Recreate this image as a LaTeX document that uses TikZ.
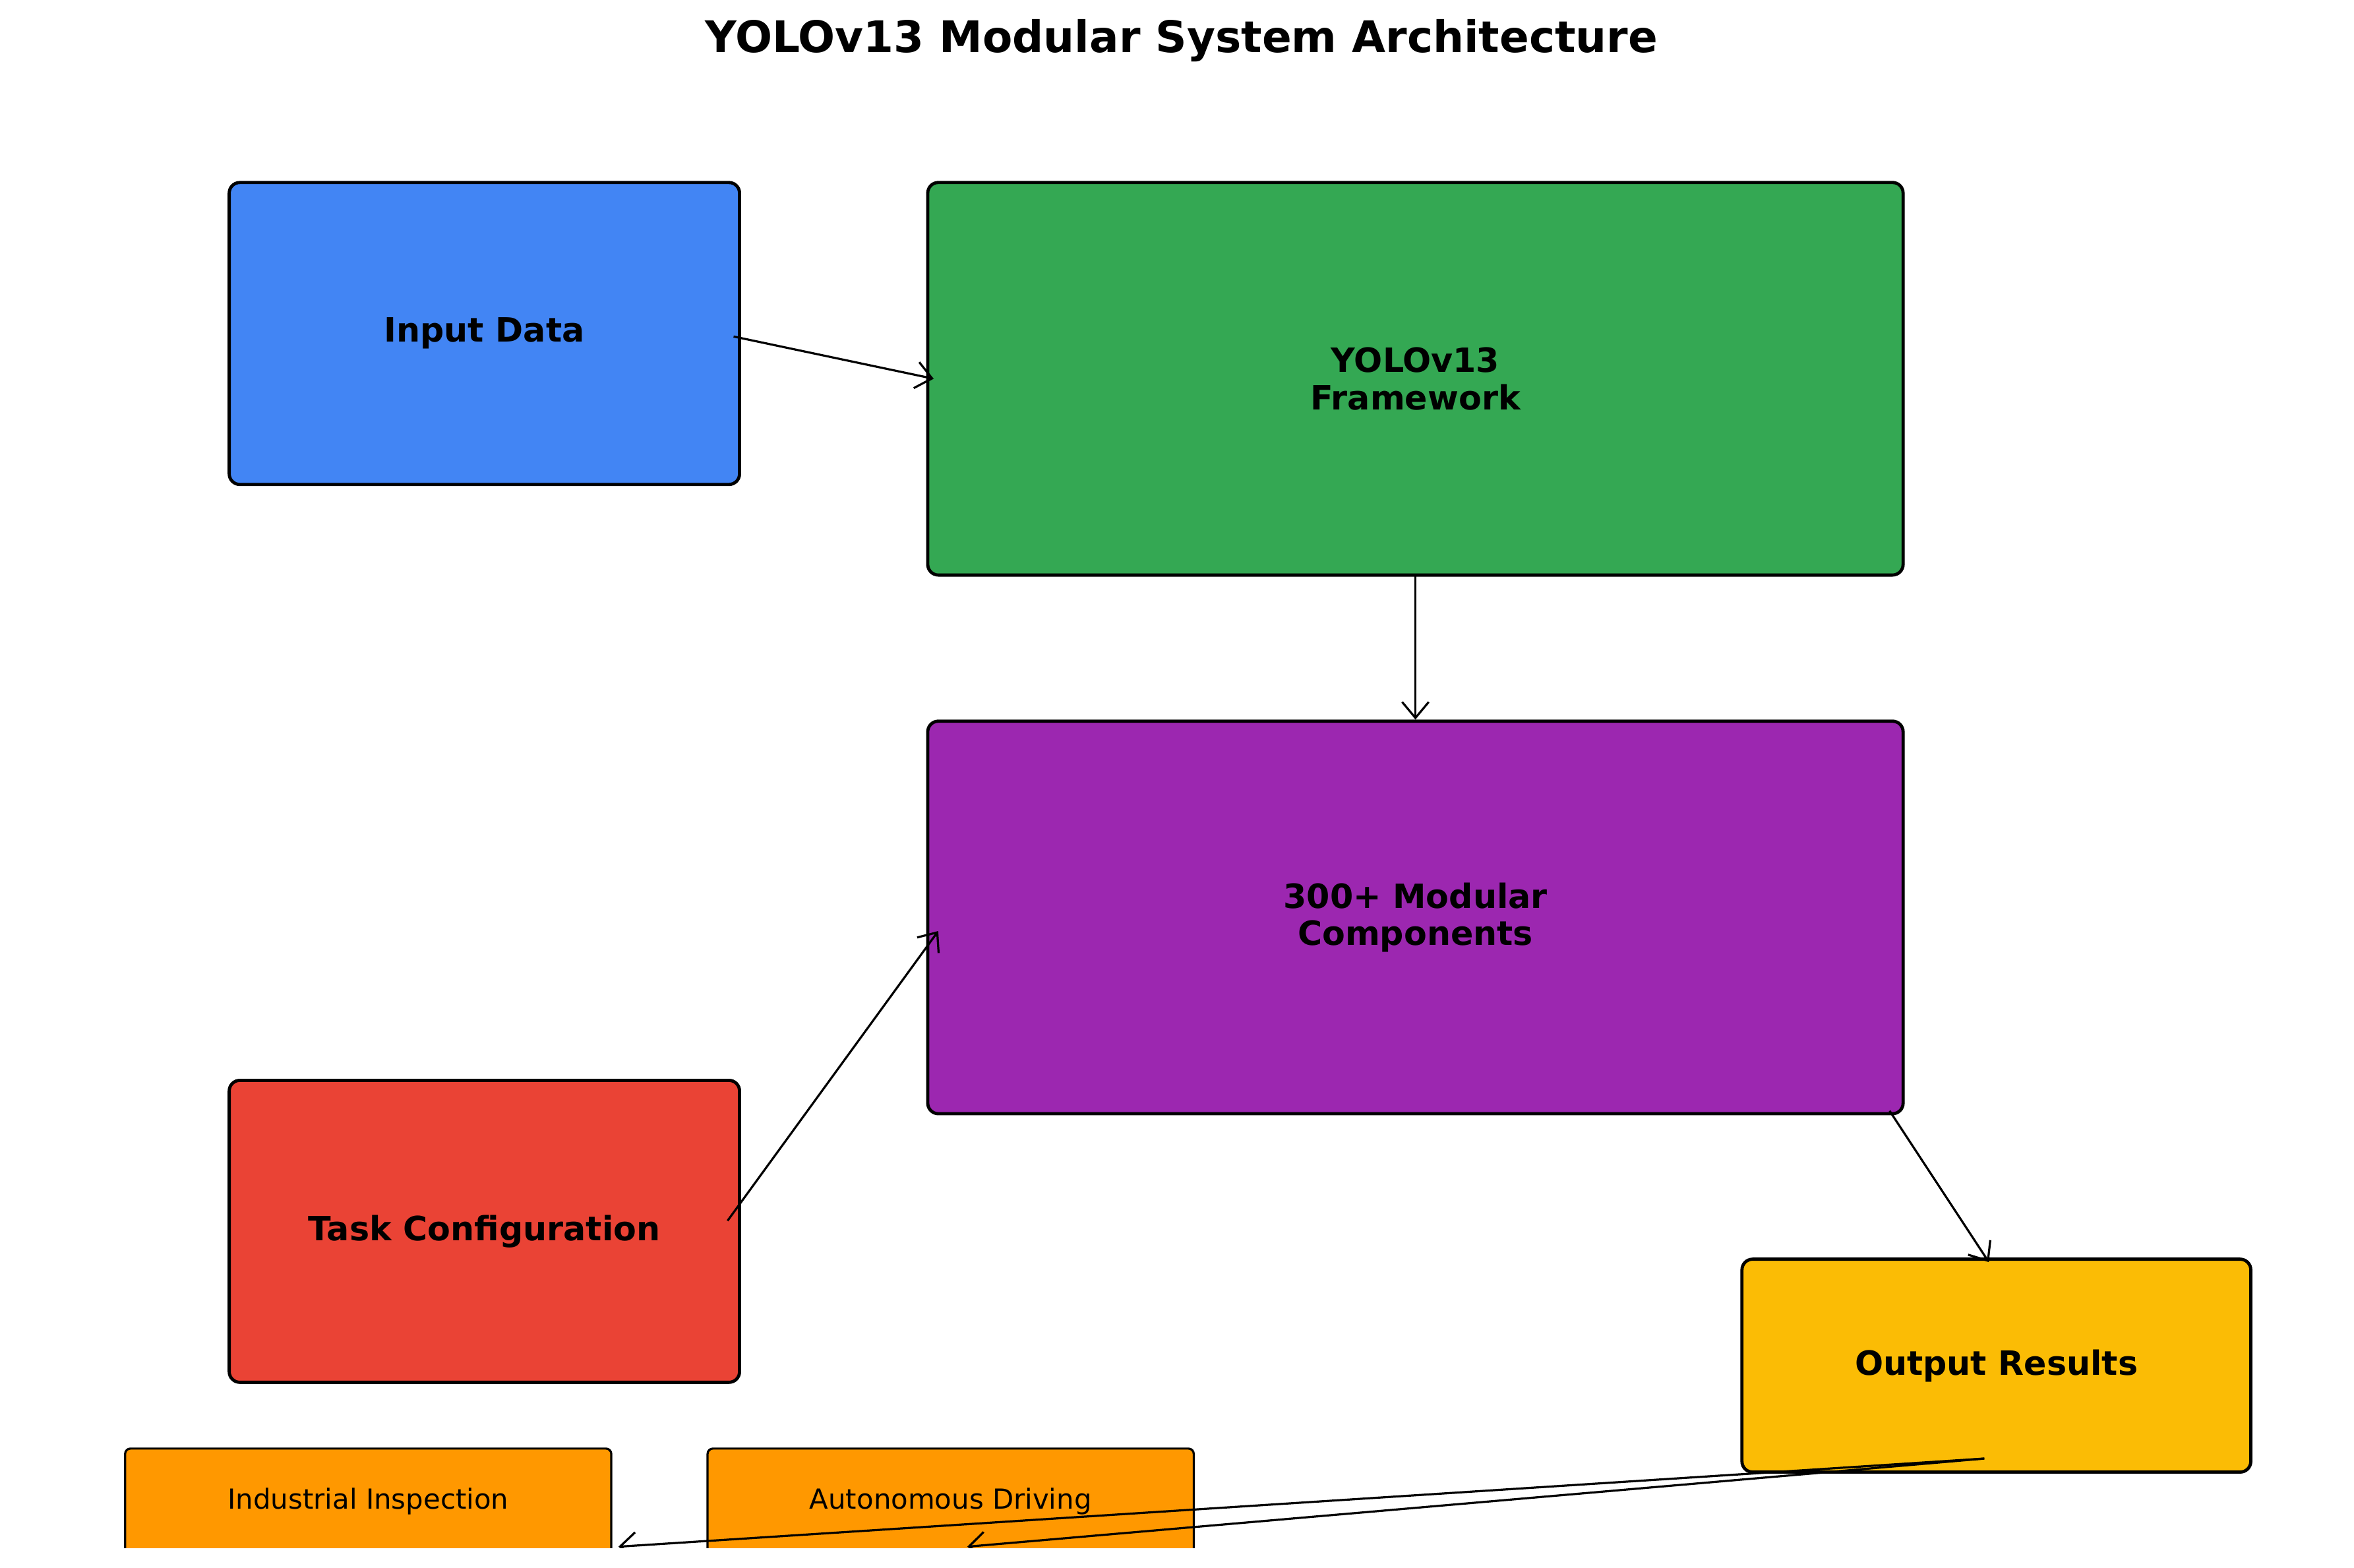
\documentclass[tikz,border=0pt]{standalone}
\usepackage{fontspec}
\setmainfont{DejaVu Sans}
\usetikzlibrary{arrows.meta}
\definecolor{gblue}{HTML}{4285F4}
\definecolor{ggreen}{HTML}{34A853}
\definecolor{gpurple}{HTML}{9C27B0}
\definecolor{gred}{HTML}{EA4335}
\definecolor{gyellow}{HTML}{FBBC05}
\definecolor{gorange}{HTML}{FF9800}
\tikzset{
  block/.style = {draw=black, line width=0.6pt, rounded corners=2pt, font=\fontsize{6.3}{7}\selectfont\bfseries, align=center, inner sep=0pt},
  app/.style = {draw=black, line width=0.4pt, rounded corners=1pt, font=\fontsize{5.2}{6}\selectfont, fill=gorange, inner sep=0pt},
  link/.style = {-{Straight Barb[length=3pt,width=5pt]}, line width=0.4pt}
}
\begin{document}
\begin{tikzpicture}[x=0.01cm, y=-0.01cm]
\useasboundingbox (0,0) rectangle (1560,1039);
\node [font=\fontsize{8.2}{9}\selectfont\bfseries] (title) at (783,27) {YOLOv13 Modular System Architecture};
\begin{scope}
\clip (0,0) rectangle (1560,1026);
\node [block, fill=gblue, minimum width=3.38cm, minimum height=2cm] (in) at (321,221) {Input Data};
\node [block, fill=ggreen, minimum width=6.46cm, minimum height=2.6cm] (fw) at (938,251) {YOLOv13\\Framework};
\node [block, fill=gpurple, minimum width=6.46cm, minimum height=2.6cm] (mod) at (938,608) {300+ Modular\\Components};
\node [block, fill=gred, minimum width=3.38cm, minimum height=2cm] (task) at (321,816) {Task Configuration};
\node [block, fill=gyellow, minimum width=3.37cm, minimum height=1.41cm] (out) at (1323,905) {Output Results};
\node [app, minimum width=3.22cm, minimum height=1.3cm] (ind) at (244,1025) {};
\node [font=\fontsize{5.2}{6}\selectfont] at (244,995) {Industrial Inspection};
\node [app, minimum width=3.22cm, minimum height=1.3cm] (auto) at (630,1025) {};
\node [font=\fontsize{5.2}{6}\selectfont] at (630,995) {Autonomous Driving};
% connections
\draw [link] ([xshift=-0.05cm,yshift=-0.02cm]in.east) -- ([xshift=0.05cm]fw.west);
\draw [link] ([yshift=0.02cm]fw.south) -- (mod.north);
\draw [link] ([xshift=-0.09cm,yshift=0.07cm]task.east) -- ([xshift=0.08cm,yshift=-0.09cm]mod.west);
\draw [link] ([xshift=-0.1cm,yshift=0.03cm]mod.south east) -- ([xshift=-0.05cm,yshift=-0.03cm]out.north);
\coordinate (outfoot) at ([xshift=-0.08cm,yshift=0.1cm]out.south);
\draw [link] (outfoot) -- ([xshift=0.04cm]ind.east);
\draw [link] (outfoot) -- ([xshift=0.11cm]auto.center);
\end{scope}
\end{tikzpicture}
\end{document}
